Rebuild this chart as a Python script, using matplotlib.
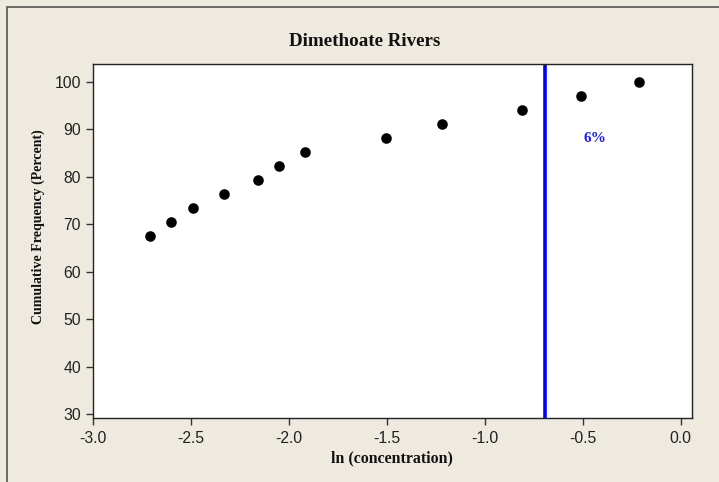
import matplotlib
matplotlib.use("Agg")
import matplotlib.pyplot as plt
from matplotlib.patches import Rectangle

# Data
ln_conc = [-2.71, -2.60, -2.49, -2.33, -2.16, -2.05, -1.92, -1.505, -1.22, -0.81, -0.51, -0.215]
cum_pct = [67.6, 70.6, 73.5, 76.5, 79.4, 82.4, 85.3, 88.2, 91.2, 94.1, 97.1, 100.0]
threshold_x = -0.693
threshold_label = "6%"
xticks = [-3.0, -2.5, -2.0, -1.5, -1.0, -0.5, 0.0]
yticks = [30, 40, 50, 60, 70, 80, 90, 100]

W, H = 719, 482
bg = "#EEEAE0"
fig = plt.figure(figsize=(W / 100, H / 100), dpi=100, facecolor=bg)

# outer frame (top/left visible)
fig.patches.append(Rectangle((7 / W, -0.05), 1.2, 1 - 7 / H + 0.05, transform=fig.transFigure,
                             fill=False, edgecolor="#555555", linewidth=1.2, zorder=0))

ax = fig.add_axes([93 / W, 1 - 418 / H, (692 - 93) / W, (418 - 64) / H])
ax.set_facecolor("white")
ax.set_xlim(-3.0, 0.058)
ax.set_ylim(29.2, 103.8)

ax.scatter(ln_conc, cum_pct, s=58, color="black", zorder=3, linewidths=0)
ax.axvline(threshold_x, color="#0000FF", linewidth=2.6, zorder=2)
ax.text(-0.437, 88.0, threshold_label, color="#1a1aff", fontsize=11, fontweight="bold",
        family="Liberation Serif", ha="center", va="center")

ax.set_xticks(xticks)
ax.set_xticklabels([f"{v:.1f}" for v in xticks])
ax.set_yticks(yticks)
for s in ["top", "right", "left", "bottom"]:
    ax.spines[s].set_color("#222222")
    ax.spines[s].set_linewidth(1.0)
ax.tick_params(direction="out", length=5, width=1, color="#333333",
               labelsize=11.3, labelcolor="#222222", top=False, right=False)
ax.tick_params(axis="x", pad=4.5)
for lab in ax.get_xticklabels() + ax.get_yticklabels():
    lab.set_family("Liberation Sans")

fig.text(365 / W, 1 - 42 / H, "Dimethoate Rivers", ha="center", va="center",
         fontsize=13.7, fontweight="bold", family="Liberation Serif", color="#111111")
fig.text(392 / W, 1 - 458 / H, "ln (concentration)", ha="center", va="center",
         fontsize=11.4, fontweight="bold", family="Liberation Serif", color="#111111")
fig.text(38 / W, 1 - 227 / H, "Cumulative Frequency (Percent)", ha="center", va="center",
         rotation=90, fontsize=10, fontweight="bold", family="Liberation Serif", color="#111111")

fig.savefig("out.png", dpi=100, facecolor=bg)
